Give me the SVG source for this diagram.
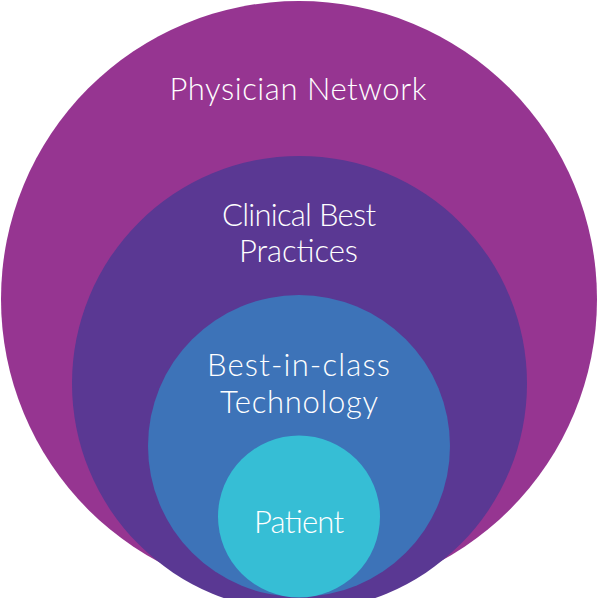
<svg xmlns="http://www.w3.org/2000/svg" width="598" height="598" viewBox="0 0 598 598">
<style>
text{font-family:"Lato","Open Sans","Liberation Sans",sans-serif;font-weight:300;fill:#ffffff;text-anchor:middle;font-size:31px}
</style>
<rect width="598" height="598" fill="#ffffff"/>
<g id="physician-network">
<circle cx="299" cy="299" r="298" fill="#963591"/>
<text x="298" y="100" textLength="257" lengthAdjust="spacing">Physician Network</text>
</g>
<g id="clinical-best-practices">
<circle cx="299.5" cy="383.5" r="227.5" fill="#5a3893"/>
<text x="299" y="226" textLength="154" lengthAdjust="spacing">Clinical Best</text>
<text x="298.5" y="262" textLength="119" lengthAdjust="spacing">Practices</text>
</g>
<g id="best-in-class-technology">
<circle cx="299" cy="446" r="151" fill="#3d73b8"/>
<text x="298.5" y="376" textLength="183" lengthAdjust="spacing">Best-in-class</text>
<text x="299" y="413" textLength="158" lengthAdjust="spacing">Technology</text>
</g>
<g id="patient">
<circle cx="299" cy="516.5" r="81" fill="#36bed5"/>
<text x="299" y="533" textLength="90" lengthAdjust="spacing">Patient</text>
</g>
<g id="connectors"/>
</svg>
